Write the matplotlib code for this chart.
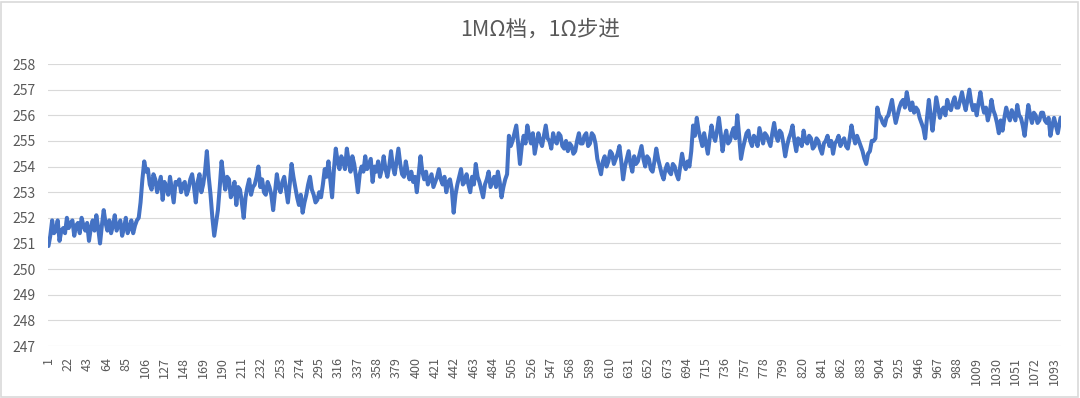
import matplotlib
matplotlib.use('Agg')
import matplotlib.pyplot as plt
from matplotlib.patches import Rectangle

plt.rcParams['font.family'] = ['Noto Sans CJK SC', 'DejaVu Sans']

# ---------------- data ----------------
title = '1MΩ档，1Ω步进'
n_categories = 1100
tick_cats = list(range(1, 1094, 21))
tick_labels = [str(c) for c in tick_cats]
y_ticks = list(range(247, 259))

# readings at every 2nd category, in blocks of 100 categories
seg_0001 = [250.9, 251.3, 251.9, 251.4, 251.5, 251.9, 251.1, 251.5, 251.6, 251.4,
            252.0, 251.6, 251.8, 251.9, 251.3, 251.7, 251.8, 251.4, 252.0, 251.7,
            251.5, 251.8, 251.1, 251.6, 251.9, 251.5, 252.1, 251.6, 251.0, 251.7,
            252.3, 251.8, 251.5, 251.9, 251.4, 251.7, 252.1, 251.5, 251.7, 251.9,
            251.3, 251.6, 252.0, 251.4, 251.6, 251.9, 251.4, 251.7, 251.9, 252.0]
seg_0101 = [252.6, 253.5, 254.2, 253.8, 253.9, 253.3, 253.1, 253.7, 253.5, 253.0,
            253.3, 253.6, 252.7, 253.4, 253.2, 252.9, 253.6, 253.1, 252.6, 253.4,
            253.3, 253.5, 253.0, 253.3, 253.4, 252.9, 253.1, 253.5, 253.7, 253.2,
            252.6, 253.4, 253.7, 253.0, 253.3, 253.8, 254.6, 253.6, 252.9, 252.0,
            251.3, 251.8, 252.3, 253.2, 254.2, 253.6, 253.1, 253.6, 253.5, 252.8]
seg_0201 = [253.0, 253.4, 252.5, 253.2, 253.1, 252.6, 252.0, 252.8, 253.2, 253.5,
            252.9, 253.2, 253.3, 253.6, 254.0, 253.2, 253.5, 253.0, 252.9, 253.4,
            253.2, 252.9, 252.3, 253.0, 253.7, 253.2, 253.0, 253.4, 253.6, 253.1,
            252.6, 253.3, 254.1, 253.6, 253.2, 252.8, 252.5, 252.9, 252.2, 252.6,
            252.9, 253.3, 253.6, 253.1, 252.9, 252.6, 252.7, 253.0, 252.8, 253.3]
seg_0301 = [253.9, 253.6, 254.2, 253.5, 252.8, 253.9, 254.7, 254.2, 253.9, 254.4,
            254.2, 253.9, 254.7, 254.2, 253.8, 254.4, 254.1, 253.6, 253.0, 253.7,
            254.0, 253.8, 254.4, 253.9, 254.1, 254.3, 253.4, 254.0, 253.8, 254.2,
            253.6, 253.9, 254.4, 253.9, 253.6, 254.0, 254.6, 254.0, 253.7, 254.2,
            254.7, 254.1, 253.7, 253.6, 254.2, 253.8, 253.5, 253.8, 253.4, 253.6]
seg_0401 = [253.0, 253.7, 254.4, 253.8, 253.5, 253.8, 253.3, 253.5, 253.7, 253.2,
            253.4, 253.6, 253.9, 253.5, 253.3, 253.6, 253.0, 253.4, 253.5, 253.1,
            252.2, 252.9, 253.3, 253.6, 253.9, 253.3, 253.4, 253.7, 253.3, 253.0,
            253.6, 253.3, 254.1, 253.6, 253.4, 253.1, 252.8, 253.3, 253.5, 253.8,
            253.2, 253.4, 253.6, 253.2, 253.8, 253.4, 252.8, 253.2, 253.5, 253.7]
seg_0501 = [255.2, 254.8, 255.0, 255.3, 255.6, 254.9, 254.1, 254.8, 255.2, 254.9,
            255.6, 255.2, 254.9, 255.3, 254.5, 254.9, 255.3, 255.0, 254.8, 255.2,
            255.6, 255.1, 255.0, 254.7, 255.3, 255.0, 254.9, 255.3, 255.2, 254.8,
            254.7, 255.0, 254.6, 254.9, 254.8, 254.5, 254.6, 255.0, 255.3, 254.9,
            254.9, 255.2, 255.3, 254.8, 254.9, 255.3, 255.2, 254.9, 254.3, 254.0]
seg_0601 = [253.7, 254.2, 254.4, 254.0, 254.2, 254.6, 254.5, 254.1, 254.3, 254.5,
            254.8, 254.2, 253.5, 254.0, 254.3, 254.6, 254.1, 253.8, 254.4, 254.1,
            254.2, 254.5, 254.8, 254.3, 254.0, 254.4, 254.3, 253.9, 253.8, 254.2,
            254.7, 254.3, 254.0, 253.7, 253.5, 253.9, 254.1, 253.8, 253.7, 254.1,
            254.0, 253.7, 253.5, 254.0, 254.5, 254.1, 253.9, 254.2, 254.0, 254.6]
seg_0701 = [255.6, 255.2, 255.9, 255.4, 255.1, 254.8, 255.3, 254.9, 254.5, 255.1,
            255.6, 255.2, 255.0, 255.4, 255.9, 255.3, 254.6, 255.1, 255.4, 254.9,
            255.0, 255.3, 255.5, 255.1, 256.0, 255.2, 254.3, 254.7, 255.0, 255.3,
            255.4, 255.0, 254.8, 255.2, 255.1, 254.8, 255.5, 255.2, 254.9, 255.3,
            255.2, 255.0, 254.8, 255.3, 255.7, 255.2, 255.0, 255.4, 255.3, 254.9]
seg_0801 = [254.4, 254.8, 255.1, 255.3, 255.6, 255.0, 254.6, 255.1, 255.0, 254.8,
            255.4, 255.0, 254.9, 255.2, 255.1, 254.7, 254.8, 255.1, 255.0, 254.7,
            254.5, 254.9, 255.0, 255.2, 254.8, 255.0, 254.5, 254.9, 255.0, 255.2,
            254.8, 255.0, 255.1, 254.8, 254.7, 255.1, 255.6, 255.2, 254.9, 255.2,
            255.0, 254.8, 254.6, 254.3, 254.1, 254.5, 254.6, 255.0, 255.0, 255.1]
seg_0901 = [256.3, 256.0, 255.9, 255.7, 255.6, 255.9, 256.0, 256.3, 256.6, 256.1,
            255.7, 256.0, 256.3, 256.5, 256.6, 256.3, 256.9, 256.5, 256.2, 256.5,
            256.1, 256.3, 256.2, 255.9, 255.7, 255.5, 255.1, 255.9, 256.6, 256.0,
            255.4, 256.0, 256.7, 256.3, 255.9, 256.2, 256.3, 256.0, 256.6, 256.3,
            256.2, 256.5, 256.7, 256.3, 256.3, 256.6, 256.9, 256.5, 256.2, 256.6]
seg_1001 = [257.0, 256.5, 256.2, 256.4, 256.0, 256.5, 256.9, 256.4, 256.1, 256.3,
            255.8, 256.1, 256.6, 256.2, 256.0, 255.7, 255.3, 255.8, 255.4, 255.9,
            256.3, 256.0, 255.8, 256.2, 256.0, 255.8, 256.4, 256.0, 255.9, 255.6,
            255.2, 255.8, 256.4, 256.0, 255.7, 256.1, 256.0, 255.7, 255.8, 256.1,
            256.1, 255.8, 255.7, 255.9, 255.2, 255.6, 255.9, 255.6, 255.3, 255.7]
last_reading = [255.9]

readings = (seg_0001 + seg_0101 + seg_0201 + seg_0301 + seg_0401 + seg_0501
            + seg_0601 + seg_0701 + seg_0801 + seg_0901 + seg_1001 + last_reading)
sample_cats = list(range(1, n_categories, 2)) + [n_categories]
assert len(readings) == len(sample_cats), (len(readings), len(sample_cats))

# ---------------- figure ----------------
W, H = 1080, 398
fig = plt.figure(figsize=(W / 100, H / 100), dpi=100)
ax = fig.add_axes([48 / W, 52 / H, 1013 / W, 282 / H])

ax.plot(sample_cats, readings, color='#4472C4', lw=2.9,
        solid_joinstyle='round', solid_capstyle='round', zorder=3)

ax.set_xlim(0.5, n_categories + 0.5)
ax.set_ylim(247, 258)
ax.set_yticks(y_ticks)
ax.set_xticks(tick_cats)
ax.set_xticklabels(tick_labels, rotation=90, va='top', ha='center')
ax.grid(axis='y', color='#D9D9D9', lw=0.8)
ax.set_axisbelow(True)
for s in ax.spines.values():
    s.set_visible(False)
ax.tick_params(axis='both', length=0, labelcolor='#595959')
ax.tick_params(axis='y', pad=9, labelsize=10)
ax.tick_params(axis='x', pad=8, labelsize=9)

fig.text(0.5, 1 - 30 / H, title, ha='center', va='center',
         fontsize=15.5, color='#595959')

fig.patches.append(Rectangle((1 / W, 1 / H), 1 - 3 / W, 1 - 3 / H,
                             transform=fig.transFigure, fill=False,
                             ec='#D9D9D9', lw=1.2))

fig.savefig('out.png', dpi=100)
